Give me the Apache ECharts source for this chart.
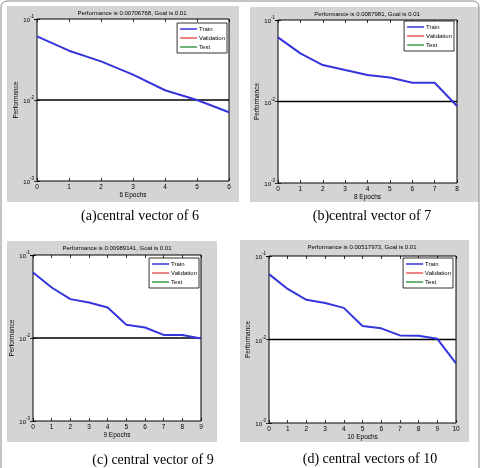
<!DOCTYPE html>
<html>
<head>
<meta charset="utf-8">
<script src="https://cdn.jsdelivr.net/npm/echarts@6/dist/echarts.min.js"></script>
<style>
  html, body { margin: 0; padding: 0; background: #fff; }
  #chart { width: 481px; height: 468px; }
</style>
</head>
<body>
<div id="chart"></div>
<script>
// training performance per epoch
const trainA = [0.061, 0.0406, 0.030, 0.0206, 0.0132, 0.0100, 0.00706768]
const trainB = [0.0612, 0.0389, 0.028, 0.0243, 0.0211, 0.0197, 0.017, 0.017, 0.0087981]
const trainC = [0.0614, 0.0406, 0.0294, 0.0268, 0.0233, 0.01445, 0.0134, 0.0109, 0.0109, 0.00989141]
const trainD = [0.0607, 0.0403, 0.0299, 0.0273, 0.0239, 0.0145, 0.0136, 0.0112, 0.0111, 0.0102, 0.00517973]
const goal = 0.01
const titles = [
  'Performance is 0.00706768, Goal is 0.01',
  'Performance is 0.0087981, Goal is 0.01',
  'Performance is 0.00989141, Goal is 0.01',
  'Performance is 0.00517973, Goal is 0.01',
]
const xNames = ['6 Epochs', '8 Epochs', '9 Epochs', '10 Epochs']
const captions = [
  '(a)central vector of 6',
  '(b)central vector of 7',
  '(c) central vector of 9',
  '(d) central vectors of 10',
]
const legendNames = ['Train', 'Validation', 'Test']
const legendColors = ['#3535dd', '#e85a5a', '#3c9a4a']
const trains = [trainA, trainB, trainC, trainD]

const layout = [
  { grid: { left: 37, top: 19, width: 192, height: 162 }, bg: [7, 6, 232, 196], title: [132, 10], cap: [140, 216], legend: { right: 254, top: 23 } },
  { grid: { left: 278, top: 20, width: 179, height: 163 }, bg: [250, 7, 229, 195], title: [367, 11], cap: [372, 216], legend: { right: 27, top: 21 } },
  { grid: { left: 33, top: 255, width: 168, height: 166 }, bg: [7, 241, 210, 201], title: [117, 245], cap: [153, 460], legend: { right: 282, top: 258 } },
  { grid: { left: 269, top: 256, width: 187, height: 167 }, bg: [240, 240, 229, 202], title: [362, 244], cap: [370, 459], legend: { right: 28, top: 258 } },
]

const sans = 'Liberation Sans, Arial, sans-serif'
const serif = 'Liberation Serif, Times New Roman, serif'

const chart = echarts.init(document.getElementById('chart'))

const grids = []
const xAxes = []
const yAxes = []
const series = []
const legends = []
const graphics = [
  { type: 'rect', shape: { x: 1, y: 1, width: 478, height: 480, r: 6 }, style: { fill: 'none', stroke: '#888', lineWidth: 1 }, z: 0 },
]

function yLabel(v) {
  const e = Math.round(Math.log10(v))
  return '{b|10}{s|' + e + '}'
}

trains.forEach((train, i) => {
  const L = layout[i]
  const n = train.length - 1
  grids.push(Object.assign({ show: true, backgroundColor: '#fff', borderColor: '#000', borderWidth: 1 }, L.grid))

  graphics.push({ type: 'rect', shape: { x: L.bg[0], y: L.bg[1], width: L.bg[2], height: L.bg[3] }, style: { fill: '#d4d4d4' }, z: -10 })
  graphics.push({ type: 'text', x: L.title[0], y: L.title[1], style: { text: titles[i], font: '6px ' + sans, fill: '#000', textAlign: 'center' } })
  graphics.push({ type: 'text', x: L.cap[0], y: L.cap[1], style: { text: captions[i], font: '14px ' + serif, fill: '#000', textAlign: 'center', textVerticalAlign: 'middle' } })

  const tick = { show: true, inside: true, length: 3, lineStyle: { color: '#000', width: 0.8 } }
  xAxes.push({
    gridIndex: i, type: 'value', min: 0, max: n, interval: 1,
    name: xNames[i], nameLocation: 'middle', nameGap: 11,
    nameTextStyle: { fontSize: 6.5, fontFamily: sans, color: '#000' },
    axisLine: { show: false }, axisTick: tick, splitLine: { show: false },
    axisLabel: { fontSize: 6.5, fontFamily: sans, color: '#000', margin: 3 },
  })
  xAxes.push({
    gridIndex: i, type: 'value', min: 0, max: n, interval: 1, position: 'top',
    axisLine: { show: false }, axisTick: tick, splitLine: { show: false }, axisLabel: { show: false },
  })
  yAxes.push({
    gridIndex: i, type: 'log', logBase: 10, min: 0.001, max: 0.1,
    name: 'Performance', nameLocation: 'middle', nameGap: 14,
    nameTextStyle: { fontSize: 6.5, fontFamily: sans, color: '#000' },
    axisLine: { show: false }, axisTick: tick, splitLine: { show: false },
    axisLabel: {
      margin: 3, formatter: yLabel,
      rich: {
        b: { fontSize: 6, fontFamily: sans, color: '#000', verticalAlign: 'bottom' },
        s: { fontSize: 4.5, fontFamily: sans, color: '#000', verticalAlign: 'bottom', padding: [0, 0, 4, 0] },
      },
    },
  })
  yAxes.push({
    gridIndex: i, type: 'log', logBase: 10, min: 0.001, max: 0.1, position: 'right',
    axisLine: { show: false }, axisTick: tick, splitLine: { show: false }, axisLabel: { show: false },
  })

  series.push({
    name: 'Train', type: 'line', xAxisIndex: 2 * i, yAxisIndex: 2 * i,
    data: train.map((v, k) => [k, v]), symbol: 'none',
    lineStyle: { color: '#3535dd', width: 2 }, itemStyle: { color: '#3535dd' }, z: 3,
  })
  series.push({
    name: 'Goal', type: 'line', xAxisIndex: 2 * i, yAxisIndex: 2 * i,
    data: [[0, goal], [n, goal]], symbol: 'none',
    lineStyle: { color: '#000', width: 1.5 }, z: 2,
  })
  series.push({ name: 'Validation', type: 'line', xAxisIndex: 2 * i, yAxisIndex: 2 * i, data: [], symbol: 'none', lineStyle: { color: '#e85a5a', width: 1 }, itemStyle: { color: '#e85a5a' } })
  series.push({ name: 'Test', type: 'line', xAxisIndex: 2 * i, yAxisIndex: 2 * i, data: [], symbol: 'none', lineStyle: { color: '#3c9a4a', width: 1 }, itemStyle: { color: '#3c9a4a' } })

  legends.push({
    data: legendNames.map((nm, k) => ({ name: nm, icon: 'rect', itemStyle: { color: legendColors[k] } })),
    orient: 'vertical', right: L.legend.right, top: L.legend.top,
    backgroundColor: '#fff', borderColor: '#000', borderWidth: 0.8, borderRadius: 0,
    padding: [3, 2, 3, 3], itemGap: 3, itemWidth: 17, itemHeight: 1.5,
    textStyle: { fontSize: 6, fontFamily: sans, color: '#000', padding: [0, 0, 0, -3] },
    selectedMode: false,
  })
})

chart.setOption({
  animation: false,
  backgroundColor: '#fff',
  grid: grids,
  xAxis: xAxes,
  yAxis: yAxes,
  legend: legends,
  series,
  graphic: graphics,
})
</script>
</body>
</html>
